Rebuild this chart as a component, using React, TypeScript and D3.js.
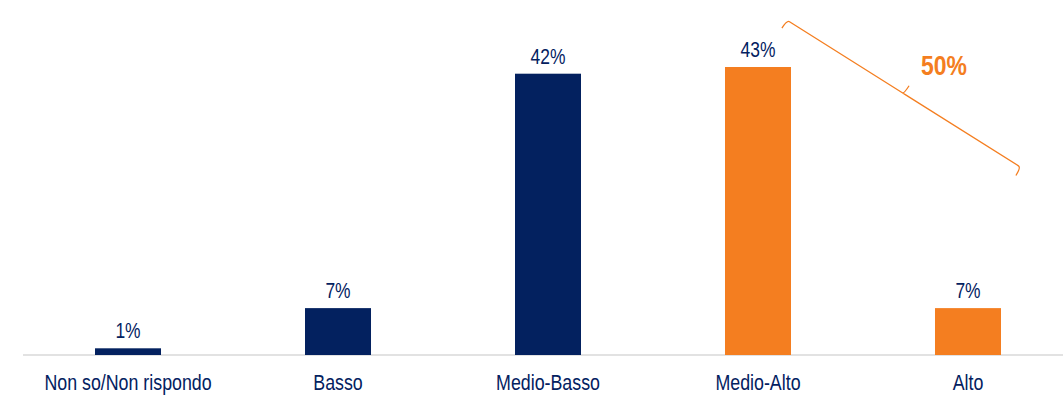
import React from "react";
import * as d3 from "d3";

const categories = ["Non so/Non rispondo", "Basso", "Medio-Basso", "Medio-Alto", "Alto"];
const values = [1, 7, 42, 43, 7];
const highlighted = [false, false, false, true, true];
const bracketLabel = "50%";
const bracketTop = 50;
const bracketBottom = 28;

const W = 1063;
const H = 398;
const NAVY = "#03215F";
const ORANGE = "#F47E20";
const FONT = "'Liberation Sans', Arial, sans-serif";

function NarrowText(props: { x: number; y: number; size: number; sx: number; fill: string; bold?: boolean; children: React.ReactNode }) {
  return (
    <text
      transform={`translate(${props.x},${props.y}) scale(${props.sx},1)`}
      textAnchor="middle"
      fontFamily={FONT}
      fontSize={props.size}
      fontWeight={props.bold ? "bold" : "normal"}
      fill={props.fill}
    >
      {props.children}
    </text>
  );
}

export default function App() {
  const x = d3.scaleBand<string>().domain(categories).range([23, 1073]).paddingInner(0.6857).paddingOuter(0.3429);
  const y = d3.scaleLinear().domain([0, 43]).range([355, 67]);
  const bw = 66;
  const cx = (c: string) => (x(c) as number) + x.bandwidth() / 2;

  // bracket
  const x1 = cx("Medio-Alto") + bw / 2 - 4;
  const y1 = y(bracketTop);
  const x2 = cx("Alto") + bw / 2 + 20;
  const y2 = y(bracketBottom);
  const dx = x2 - x1, dy = y2 - y1;
  const len = Math.hypot(dx, dy);
  const ux = dx / len, uy = dy / len;
  const px = uy, py = -ux; // perpendicular (up-right)
  const mx = (x1 + x2) / 2, my = (y1 + y2) / 2;
  const t = 9.5;
  const path = d3.path();
  path.moveTo(x1 - px * t, y1 - py * t);
  path.quadraticCurveTo(x1, y1, x1 + ux * 3, y1 + uy * 3);
  path.lineTo(mx - ux * 2, my - uy * 2);
  path.quadraticCurveTo(mx, my, mx + px * t, my + py * t);
  path.moveTo(mx - ux * 2, my - uy * 2);
  path.quadraticCurveTo(mx, my, mx + ux * 2, my + uy * 2);
  path.lineTo(x2 - ux * 3, y2 - uy * 3);
  path.quadraticCurveTo(x2, y2, x2 - px * t, y2 - py * t);

  return (
    <svg width={W} height={H} style={{ position: "absolute", left: 0, top: 0, background: "#fff" }}>
      <line x1={23} x2={W} y1={y(0)} y2={y(0)} stroke="#d9d9d9" strokeWidth={1.5} />
      {categories.map((c, i) => (
        <g key={c}>
          <rect x={cx(c) - bw / 2} y={y(values[i])} width={bw} height={y(0) - y(values[i])} fill={highlighted[i] ? ORANGE : NAVY} />
          <NarrowText x={cx(c)} y={y(values[i]) - 10} size={21.5} sx={0.81} fill={NAVY}>
            {values[i]}%
          </NarrowText>
          <NarrowText x={cx(c)} y={390} size={22} sx={0.81} fill={NAVY}>
            {c}
          </NarrowText>
        </g>
      ))}
      <path d={path.toString()} fill="none" stroke={ORANGE} strokeWidth={1.3} />
      <NarrowText x={944} y={75} size={28} sx={0.82} bold fill={ORANGE}>
        {bracketLabel}
      </NarrowText>
    </svg>
  );
}
